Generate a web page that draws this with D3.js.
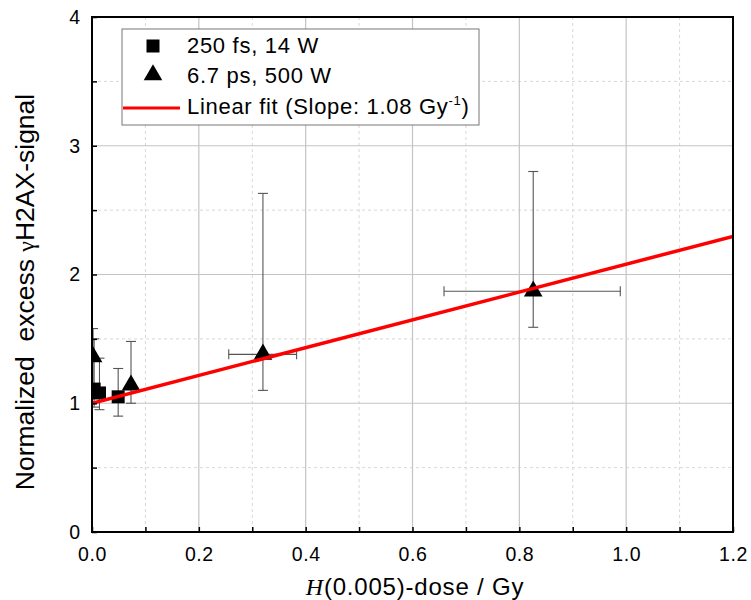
<!DOCTYPE html>
<html>
<head>
<meta charset="utf-8">
<script src="https://cdn.jsdelivr.net/npm/d3@7"></script>
<style>
  html, body { margin: 0; padding: 0; background: #fff; }
  svg { display: block; font-family: "Liberation Sans", Arial, sans-serif; }
</style>
</head>
<body>
<div id="chart"></div>
<script>
// ---- data ----
const xTicks = [0.0, 0.2, 0.4, 0.6, 0.8, 1.0, 1.2];
const xTickLabels = ["0.0", "0.2", "0.4", "0.6", "0.8", "1.0", "1.2"];
const yTicks = [0, 1, 2, 3, 4];
const yTickLabels = ["0", "1", "2", "3", "4"];

// 250 fs, 14 W (squares)
const sqX   = [0.004, 0.014, 0.049];
const sqY   = [1.11, 1.08, 1.05];
const sqYLo = [0.97, 0.95, 0.90];
const sqYHi = [1.50, 1.35, 1.27];

// 6.7 ps, 500 W (triangles)
const triX   = [0.002, 0.073, 0.320, 0.826];
const triY   = [1.36, 1.14, 1.38, 1.87];
const triYLo = [1.12, 1.00, 1.10, 1.59];
const triYHi = [1.58, 1.48, 2.63, 2.80];
const triXLo = [null, null, 0.256, 0.659];
const triXHi = [null, null, 0.383, 0.989];

// linear fit
const fitSlope = 1.08;
const fitIntercept = 1.0;
const fitRange = [0, 1.2];

const legendLabels = ["250 fs, 14 W", "6.7 ps, 500 W", "Linear fit (Slope: 1.08 Gy", "-1", ")"];

// ---- layout ----
const W = 751, H = 600;
const m = { left: 92, right: 18, top: 17, bottom: 68 };
const pw = W - m.left - m.right, ph = H - m.top - m.bottom;

const svg = d3.select("#chart").append("svg").attr("width", W).attr("height", H);
const x = d3.scaleLinear().domain([0, 1.2]).range([m.left, m.left + pw]);
const y = d3.scaleLinear().domain([0, 4]).range([m.top + ph, m.top]);

svg.append("defs").append("clipPath").attr("id", "clip")
  .append("rect").attr("x", m.left).attr("y", m.top).attr("width", pw).attr("height", ph);

// grid
const g = svg.append("g");
const xMinor = d3.range(1, 12, 2).map(i => i / 10);
const yMinor = [0.5, 1.5, 2.5, 3.5];
g.selectAll(".gxm").data(xMinor).join("line")
  .attr("x1", d => x(d)).attr("x2", d => x(d)).attr("y1", m.top).attr("y2", m.top + ph)
  .attr("stroke", "#d8d8d8").attr("stroke-width", 1).attr("stroke-dasharray", "3,3");
g.selectAll(".gym").data(yMinor).join("line")
  .attr("y1", d => y(d)).attr("y2", d => y(d)).attr("x1", m.left).attr("x2", m.left + pw)
  .attr("stroke", "#d8d8d8").attr("stroke-width", 1).attr("stroke-dasharray", "3,3");
g.selectAll(".gx").data(xTicks.slice(1, -1)).join("line")
  .attr("x1", d => x(d)).attr("x2", d => x(d)).attr("y1", m.top).attr("y2", m.top + ph)
  .attr("stroke", "#c4c4c4").attr("stroke-width", 1.2);
g.selectAll(".gy").data(yTicks.slice(1, -1)).join("line")
  .attr("y1", d => y(d)).attr("y2", d => y(d)).attr("x1", m.left).attr("x2", m.left + pw)
  .attr("stroke", "#c4c4c4").attr("stroke-width", 1.2);

// data layer
const plot = svg.append("g").attr("clip-path", "url(#clip)");
const ebColor = "#555", capW = 5;

function yErr(xs, ys, lo, hi) {
  xs.forEach((xv, i) => {
    const px = x(xv);
    plot.append("line").attr("x1", px).attr("x2", px).attr("y1", y(lo[i])).attr("y2", y(hi[i]))
      .attr("stroke", ebColor).attr("stroke-width", 1.1);
    [lo[i], hi[i]].forEach(v => plot.append("line")
      .attr("x1", px - capW).attr("x2", px + capW).attr("y1", y(v)).attr("y2", y(v))
      .attr("stroke", ebColor).attr("stroke-width", 1.1));
  });
}
function xErr(xs, ys, lo, hi) {
  xs.forEach((xv, i) => {
    if (lo[i] == null) return;
    const py = y(ys[i]);
    plot.append("line").attr("x1", x(lo[i])).attr("x2", x(hi[i])).attr("y1", py).attr("y2", py)
      .attr("stroke", ebColor).attr("stroke-width", 1.1);
    [lo[i], hi[i]].forEach(v => plot.append("line")
      .attr("x1", x(v)).attr("x2", x(v)).attr("y1", py - capW).attr("y2", py + capW)
      .attr("stroke", ebColor).attr("stroke-width", 1.1));
  });
}
yErr(sqX, sqY, sqYLo, sqYHi);
yErr(triX, triY, triYLo, triYHi);
xErr(triX, triY, triXLo, triXHi);

const sqSym = d3.symbol().type(d3.symbolSquare).size(169);
const triSym = d3.symbol().type(d3.symbolTriangle).size(150);
plot.selectAll(".sq").data(sqX).join("path")
  .attr("d", sqSym).attr("transform", (d, i) => `translate(${x(d)},${y(sqY[i])})`).attr("fill", "#000");
plot.selectAll(".tri").data(triX).join("path")
  .attr("d", triSym).attr("transform", (d, i) => `translate(${x(d)},${y(triY[i])})`).attr("fill", "#000");

// fit line
plot.append("line")
  .attr("x1", x(fitRange[0])).attr("y1", y(fitIntercept + fitSlope * fitRange[0]))
  .attr("x2", x(fitRange[1])).attr("y2", y(fitIntercept + fitSlope * fitRange[1]))
  .attr("stroke", "#ff0000").attr("stroke-width", 3.5);

// axes (ticks inward)
const xAxis = d3.axisBottom(x).tickValues(d3.range(0, 13).map(i => i / 10)).tickSize(-5)
  .tickFormat(d => { const k = xTicks.findIndex(t => Math.abs(t - d) < 1e-9); return k >= 0 ? xTickLabels[k] : ""; });
const gx = svg.append("g").attr("transform", `translate(0,${m.top + ph})`).call(xAxis);
gx.select(".domain").remove();
gx.selectAll(".tick line").attr("stroke", "#000").attr("stroke-width", 1.5);
gx.selectAll(".tick text").attr("font-size", 19.5).attr("letter-spacing", 0.6).attr("fill", "#000").attr("dy", "0.71em").attr("y", 15);

const yAxis = d3.axisLeft(y).tickValues(d3.range(0, 9).map(i => i / 2)).tickSize(-5)
  .tickFormat(d => { const k = yTicks.indexOf(d); return k >= 0 ? yTickLabels[k] : ""; });
const gy = svg.append("g").attr("transform", `translate(${m.left},0)`).call(yAxis);
gy.select(".domain").remove();
gy.selectAll(".tick line").attr("stroke", "#000").attr("stroke-width", 1.5);
gy.selectAll(".tick text").attr("font-size", 19.5).attr("fill", "#000").attr("x", -12);

// frame
svg.append("rect").attr("x", m.left).attr("y", m.top).attr("width", pw).attr("height", ph)
  .attr("fill", "none").attr("stroke", "#000").attr("stroke-width", 2);

// axis titles
const xt = svg.append("text").attr("x", 415).attr("y", 595).attr("text-anchor", "middle")
  .attr("font-size", 24).attr("letter-spacing", 0.8).attr("fill", "#000");
xt.append("tspan").attr("font-family", "'Liberation Serif', 'Times New Roman', serif").attr("font-style", "italic").text("H");
xt.append("tspan").text("(0.005)-dose / Gy");

const yt = svg.append("text").attr("transform", `translate(34,292) rotate(-90)`)
  .attr("text-anchor", "middle").attr("font-size", 26.5).attr("fill", "#000");
yt.append("tspan").text("Normalized\u00a0 excess ");
yt.append("tspan").attr("font-family", "'Liberation Serif', 'Times New Roman', serif").attr("font-size", 24).text("\u03b3");
yt.append("tspan").text("H2AX-signal");

// legend
const lg = svg.append("g");
lg.append("rect").attr("x", 122).attr("y", 29).attr("width", 357).attr("height", 96)
  .attr("fill", "#fff").attr("stroke", "#777").attr("stroke-width", 1);
lg.append("path").attr("d", d3.symbol().type(d3.symbolSquare).size(169)).attr("transform", "translate(153,46)").attr("fill", "#000");
lg.append("path").attr("d", d3.symbol().type(d3.symbolTriangle).size(150)).attr("transform", "translate(153,75)").attr("fill", "#000");
lg.append("line").attr("x1", 123).attr("x2", 180).attr("y1", 108).attr("y2", 108).attr("stroke", "#ff0000").attr("stroke-width", 3);
const lfs = 22, lls = 0.7;
lg.append("text").attr("x", 187).attr("y", 53).attr("font-size", lfs).attr("letter-spacing", lls).attr("fill", "#000").text(legendLabels[0]);
lg.append("text").attr("x", 187).attr("y", 83).attr("font-size", lfs).attr("letter-spacing", lls).attr("fill", "#000").text(legendLabels[1]);
const l3 = lg.append("text").attr("x", 187).attr("y", 114).attr("font-size", lfs).attr("letter-spacing", lls).attr("fill", "#000");
l3.append("tspan").text(legendLabels[2]);
l3.append("tspan").attr("font-size", 13).attr("dy", -9).text(legendLabels[3]);
l3.append("tspan").attr("dy", 9).text(legendLabels[4]);
</script>
</body>
</html>
